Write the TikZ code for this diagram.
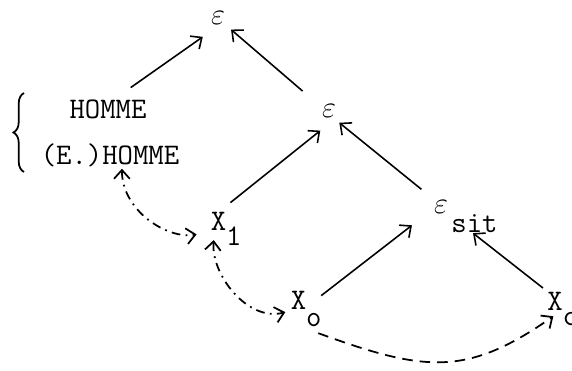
\documentclass[tikz,border=0pt]{standalone}
\usepackage{amsmath,amssymb}
\usepackage{bm}
\usetikzlibrary{arrows.meta,decorations.pathreplacing}

\newcommand{\dropsub}[2]{\rlap{\smash{\raisebox{-#1}{#2}}}}

\tikzset{
  lbl/.style={inner sep=1pt, font=\fontsize{17}{20}\selectfont\ttfamily},
  arr/.style={-{Straight Barb[length=5pt,width=9pt]}, line width=0.9pt},
  linkdd/.style={{Straight Barb[length=5pt,width=9pt]}-{Straight Barb[length=5pt,width=9pt]},
    line width=1pt, dash pattern=on 5pt off 3pt on 1pt off 3pt},
  lnkdash/.style={-{Straight Barb[length=5pt,width=9pt]}, line width=1pt,
    dash pattern=on 6pt off 4pt},
}

\begin{document}
\begin{tikzpicture}[x=0.02cm,y=-0.02cm]
\useasboundingbox (0,0) rectangle (572,371);

% Nodes
\node[lbl] (eTop) at (218,17.5) {$\varepsilon$};
\node[lbl] (eMid) at (329,111) {$\varepsilon$};
\node[lbl] (homme) at (108,109) {HOMME};
\node[lbl] (ehomme) at (110,155) {(E.)HOMME};
\node[lbl] (eSit) at (441,206.5) {$\varepsilon$\dropsub{10.8pt}{\hspace{2pt}sit}};
\node[lbl] (xOne) at (218.5,221) {X\dropsub{8.5pt}{1}};
\node[lbl] (xZero) at (298.5,300) {X\dropsub{10pt}{o}};
\node[lbl] (xC) at (555,301) {X\dropsub{9pt}{c}};

% Brace
\draw[line width=1pt, decorate, decoration={brace,amplitude=6pt}] (24,172) -- (24,93);

% Tree arrows
\draw[arr, shorten <=9.7pt, shorten >=10.6pt] (homme.53) -- (eTop.south);
\draw[arr, shorten <=13pt, shorten >=3pt] (eMid.151) -- (eTop.south east);
\draw[arr, shorten <=6.5pt, shorten >=10pt] (xOne.75) -- (eMid.-60);
\draw[arr, shorten <=7.7pt, shorten >=2.8pt] (eSit.north west) -- (eMid.-53);
\draw[arr, shorten <=9.3pt, shorten >=14.4pt] (xZero.-30) -- (eSit.200);
\draw[arr, shorten <=1.6pt, shorten >=16.6pt] (xC.north west) -- (eSit.south east);

% Links
\draw[linkdd, shorten >=7pt] (ehomme.-49) to[out=-90,in=190] (xOne.south west);
\draw[linkdd, shorten <=4.5pt, shorten >=2pt] (xOne.-110) to[out=-95,in=195] (xZero.south west);
\draw[lnkdash, shorten >=4pt] ([xshift=5.7pt,yshift=-12.5pt]xZero.south east)
  to[out=-20,in=215,looseness=1.2] (xC.-70);

\end{tikzpicture}
\end{document}
